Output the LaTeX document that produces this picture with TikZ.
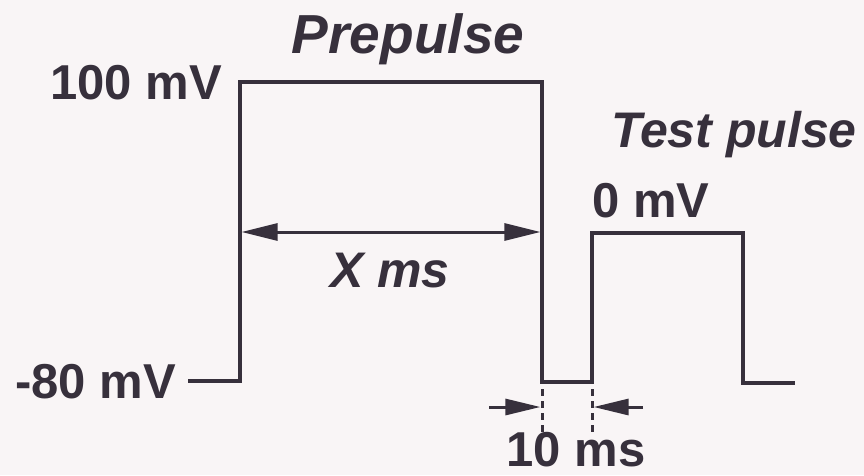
\documentclass[tikz,border=0pt]{standalone}
\usepackage{fontspec}
\setmainfont{Liberation Sans}
\usetikzlibrary{arrows.meta}
\definecolor{ink}{RGB}{55,48,60}
\definecolor{paper}{RGB}{249,245,246}
\begin{document}
\begin{tikzpicture}[x=1pt,y=-1pt,
  wave/.style={draw=ink,line width=3.4pt,line join=miter},
  dimarrow/.style={draw=ink,line width=3pt,-{Triangle[length=35pt,width=16pt]},shorten >=1.6pt},
  dimboth/.style={draw=ink,line width=3pt,{Triangle[length=36pt,width=17pt]}-{Triangle[length=36pt,width=17pt]},shorten >=1.6pt,shorten <=1.6pt},
  guide/.style={draw=ink,line width=3pt,dash pattern=on 7pt off 5pt},
  lbl/.style={text=ink,font=\fontsize{49}{56}\selectfont\bfseries,inner sep=0pt},
  ilbl/.style={text=ink,font=\fontsize{50}{56}\selectfont\bfseries\itshape,inner sep=0pt}]
\fill[paper] (0,0) rectangle (864,475);
\useasboundingbox (0,0) rectangle (864,475);
% waveform corners
\coordinate (s0) at (188,381);
\coordinate (a1) at (240,381);
\coordinate (a2) at (240,82);
\coordinate (a3) at (542,82);
\coordinate (a4) at (542,382);
\coordinate (b1) at (592,382);
\coordinate (b2) at (592,233);
\coordinate (b3) at (743,233);
\coordinate (b4) at (743,383);
\coordinate (e0) at (795,383);
\draw[wave] (s0) -- (a1) -- (a2) -- (a3) -- (a4) -- (b1) -- (b2) -- (b3) -- (b4) -- (e0);
% X ms dimension
\coordinate (xl) at (240,232);
\coordinate (xr) at (542,232);
\draw[dimboth] (xl) -- (xr);
% 10 ms dimension
\coordinate (g1t) at (542,389);
\coordinate (g1b) at (542,434);
\coordinate (g2t) at (592,389);
\coordinate (g2b) at (592,434);
\draw[guide] (g1t) -- (g1b);
\draw[guide] (g2t) -- (g2b);
\coordinate (l1) at (489,407);
\coordinate (l2) at (542,407);
\coordinate (r1) at (643,407);
\coordinate (r2) at (592,407);
\draw[dimarrow] (l1) -- (l2);
\draw[dimarrow] (r1) -- (r2);
% labels
\node (pre) [ilbl, anchor=base, font=\fontsize{55}{60}\selectfont\bfseries\itshape] at (408,53) {Prepulse};
\node (v100) [lbl, anchor=base east] at (222,99) {100 mV};
\node (vm80) [lbl, anchor=base east] at (176,398) {-80 mV};
\node (test) [ilbl, anchor=base east] at (857,147) {Test pulse};
\node (v0) [lbl, anchor=base west] at (592,217) {0 mV};
\node (xms) [ilbl, anchor=base] at (390,287) {X ms};
\node (tms) [lbl, anchor=base] at (576,466) {10 ms};
\end{tikzpicture}
\end{document}
